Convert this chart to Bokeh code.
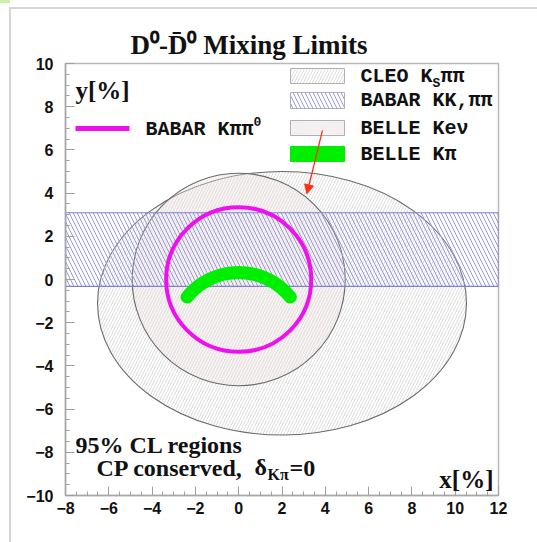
import math
from bokeh.plotting import figure
from bokeh.models import Label, Arrow, NormalHead, FixedTicker, Range1d, InlineStyleSheet
from bokeh.embed import file_html
from bokeh.resources import INLINE

# ---------------- data ----------------
x_range = [-8, 12]
y_range = [-10, 10]
x_ticks = [-8, -6, -4, -2, 0, 2, 4, 6, 8, 10, 12]
y_ticks = [-10, -8, -6, -4, -2, 0, 2, 4, 6, 8, 10]

cleo_center = [2.0, -1.1]          # CLEO K_S pi pi ellipse (x, y)
cleo_semi_axes = [8.52, 6.1]        # semi-axes (x, y)
kk_band = [-0.32, 3.09]             # BABAR KK,pipi : y band limits
kev_center = [0.0, 0.0]             # BELLE K e nu circle
kev_radius = 4.92
kpipi0_center = [0.0, 0.0]          # BABAR K pi pi0 circle
kpipi0_radius = 3.35
kpi_arc_center = [0.0, -2.75]       # BELLE K pi crescent (centre line arc)
kpi_arc_radius = 3.07
kpi_arc_angles = [39, 141]          # degrees

arrow_start = [3.87, 6.9]
arrow_end = [3.15, 3.97]

# ---------------- layout ----------------
W, H = 537, 542
FL, FT, FW, FH = 65, 63, 433, 432
SX = FW / (x_range[1] - x_range[0])
SY = FH / (y_range[1] - y_range[0])


def X(px):
    return x_range[0] + (px - FL) / SX


def Y(py):
    return y_range[1] - (py - FT) / SY


p = figure(width=W, height=H, output_backend="svg", toolbar_location=None,
           x_range=Range1d(*x_range), y_range=Range1d(*y_range),
           min_border_left=FL, min_border_top=FT,
           min_border_right=W - FL - FW, min_border_bottom=H - FT - FH,
           frame_width=FW, frame_height=FH)
p.background_fill_color = "white"
p.border_fill_color = "white"
p.outline_line_color = "#b8b8b8"
p.outline_line_width = 1.5
p.xgrid.visible = False
p.ygrid.visible = False

# title  D0 - D0bar Mixing Limits
p.title.text = "D\u2070-D\u0304\u2070 Mixing Limits"
p.title.text_font = "Liberation Serif"
p.title.text_font_style = "bold"
p.title.text_font_size = "27px"
p.title.align = "left"
p.title.offset = 65
p.title.standoff = 8
p.title.text_color = "#111111"

for ax, ticks in ((p.xaxis, x_ticks), (p.yaxis, y_ticks)):
    ax.ticker = FixedTicker(ticks=ticks, minor_ticks=[t / 2 for t in range(-20, 25)])
    ax.axis_line_color = "#a8a8a8"
    ax.axis_line_width = 1.5
    ax.major_tick_line_color = "#a0a0a0"
    ax.minor_tick_line_color = "#a0a0a0"
    ax.major_tick_in = 9
    ax.major_tick_out = 0
    ax.minor_tick_in = 4
    ax.minor_tick_out = 0
    ax.major_label_text_font = "Liberation Sans"
    ax.major_label_text_font_style = "bold"
    ax.major_label_text_font_size = "16px"
    ax.major_label_text_color = "#111111"
p.xaxis.major_label_standoff = 6
p.yaxis.major_label_standoff = 12

# CLEO ellipse
p.ellipse(x=[cleo_center[0]], y=[cleo_center[1]],
          width=[2 * cleo_semi_axes[0]], height=[2 * cleo_semi_axes[1]],
          fill_color="white", fill_alpha=1.0,
          hatch_pattern="/", hatch_color="#c6c6c6", hatch_scale=6, hatch_weight=0.6,
          line_color="#6a6a6a", line_width=1.1)
# BELLE K e nu circle
p.ellipse(x=[kev_center[0]], y=[kev_center[1]],
          width=[2 * kev_radius], height=[2 * kev_radius],
          fill_color="#f0e4e4", fill_alpha=0.25,
          hatch_pattern="\\", hatch_color="#eadcdc", hatch_scale=5, hatch_weight=0.5,
          line_color="#6a6a6a", line_width=1.1)
# BABAR KK, pipi band
p.quad(left=[x_range[0]], right=[x_range[1]], bottom=[kk_band[0]], top=[kk_band[1]],
       fill_color="white", fill_alpha=0.1,
       hatch_pattern="\\", hatch_color="#9a9ad6", hatch_scale=8, hatch_weight=1.0,
       line_color="#8080d4", line_width=1.2)
# BABAR K pi pi0 circle
p.ellipse(x=[kpipi0_center[0]], y=[kpipi0_center[1]],
          width=[2 * kpipi0_radius], height=[2 * kpipi0_radius],
          fill_color=None, line_color="#ee10ee", line_width=4)
# BELLE K pi crescent
p.arc(x=[kpi_arc_center[0]], y=[kpi_arc_center[1]], radius=[kpi_arc_radius],
      start_angle=[math.radians(kpi_arc_angles[0])], end_angle=[math.radians(kpi_arc_angles[1])],
      line_color="#00ee00", line_width=13, line_cap="round")

# ---------------- legend (drawn by hand) ----------------
sw_left, sw_right = X(290), X(344)
rows = [(68, 83), (92, 108), (120, 135), (146, 161)]
styles = [
    dict(fill_color="white", hatch_pattern="/", hatch_color="#c6c6c6", hatch_scale=6, hatch_weight=0.6),
    dict(fill_color="white", hatch_pattern="\\", hatch_color="#9a9ad6", hatch_scale=8, hatch_weight=1.0),
    dict(fill_color="#f8f4f4", hatch_pattern="\\", hatch_color="#ece0e0", hatch_scale=5, hatch_weight=0.5),
    dict(fill_color="#00ee00"),
]
for (t, b), st in zip(rows, styles):
    p.quad(left=[sw_left], right=[sw_right], bottom=[Y(b)], top=[Y(t)],
           line_color="#b0b0b0" if st["fill_color"] != "#00ee00" else "#00ee00", line_width=1, **st)

MONO = "Liberation Mono"
FS = 20
CW = 0.6 * FS


def mono(txt, px, py, size=FS):
    p.add_layout(Label(x=X(px), y=Y(py), text=txt, text_font=MONO, text_font_style="bold",
                       text_font_size=f"{size}px", text_baseline="middle", text_color="#111111"))


tx = 360
mono("CLEO K", tx, 76)
mono("S", tx + 6 * CW, 83, size=13)
mono("\u03c0\u03c0", tx + 6 * CW + 8, 76)
mono("BABAR KK,\u03c0\u03c0", tx, 100)
mono("BELLE Ke\u03bd", tx, 128)
mono("BELLE K\u03c0", tx, 154)

# left legend entry
p.line(x=[X(75), X(129)], y=[Y(128), Y(128)], line_color="#ee10ee", line_width=5)
mono("BABAR K\u03c0\u03c0", 145, 129)
mono("0", 145 + 9 * CW, 121, size=13)

# arrow
p.add_layout(Arrow(x_start=arrow_start[0], y_start=arrow_start[1],
                   x_end=arrow_end[0], y_end=arrow_end[1],
                   line_color="#ff3010", line_width=1.3,
                   end=NormalHead(size=9, fill_color="#ff3010", line_color="#ff3010")))

# ---------------- serif texts ----------------
SERIF = "Liberation Serif"


def serif(txt, px, py, size, align="left"):
    p.add_layout(Label(x=X(px), y=Y(py), text=txt, text_font=SERIF, text_font_style="bold",
                       text_font_size=f"{size}px", text_align=align, text_baseline="middle",
                       text_color="#111111"))


serif("y[%]", 75, 90, 25)
serif("x[%]", 493, 479, 25, align="right")
serif("95% CL regions", 75, 444, 24)
serif("CP conserved,", 96, 467, 24)
serif("\u03b4", 254, 466, 24)
serif("K\u03c0", 267, 474, 16)
serif("=0", 289, 467, 24)

# page decorations (slide border) via CSS
p.stylesheets = [InlineStyleSheet(css="""
:host::after { content: ""; position: absolute; left: 9px; top: 7px; right: 0; bottom: 0;
  border-left: 2px solid #d6d6d6; border-top: 2px solid #d6d6d6; pointer-events: none; z-index: 10; }
:host::before { content: ""; position: absolute; left: 0; top: 0; width: 10px; height: 3px;
  background: #c8f2a8; pointer-events: none; z-index: 10; }
""")]

open("out.html", "w").write(file_html(p, INLINE))
